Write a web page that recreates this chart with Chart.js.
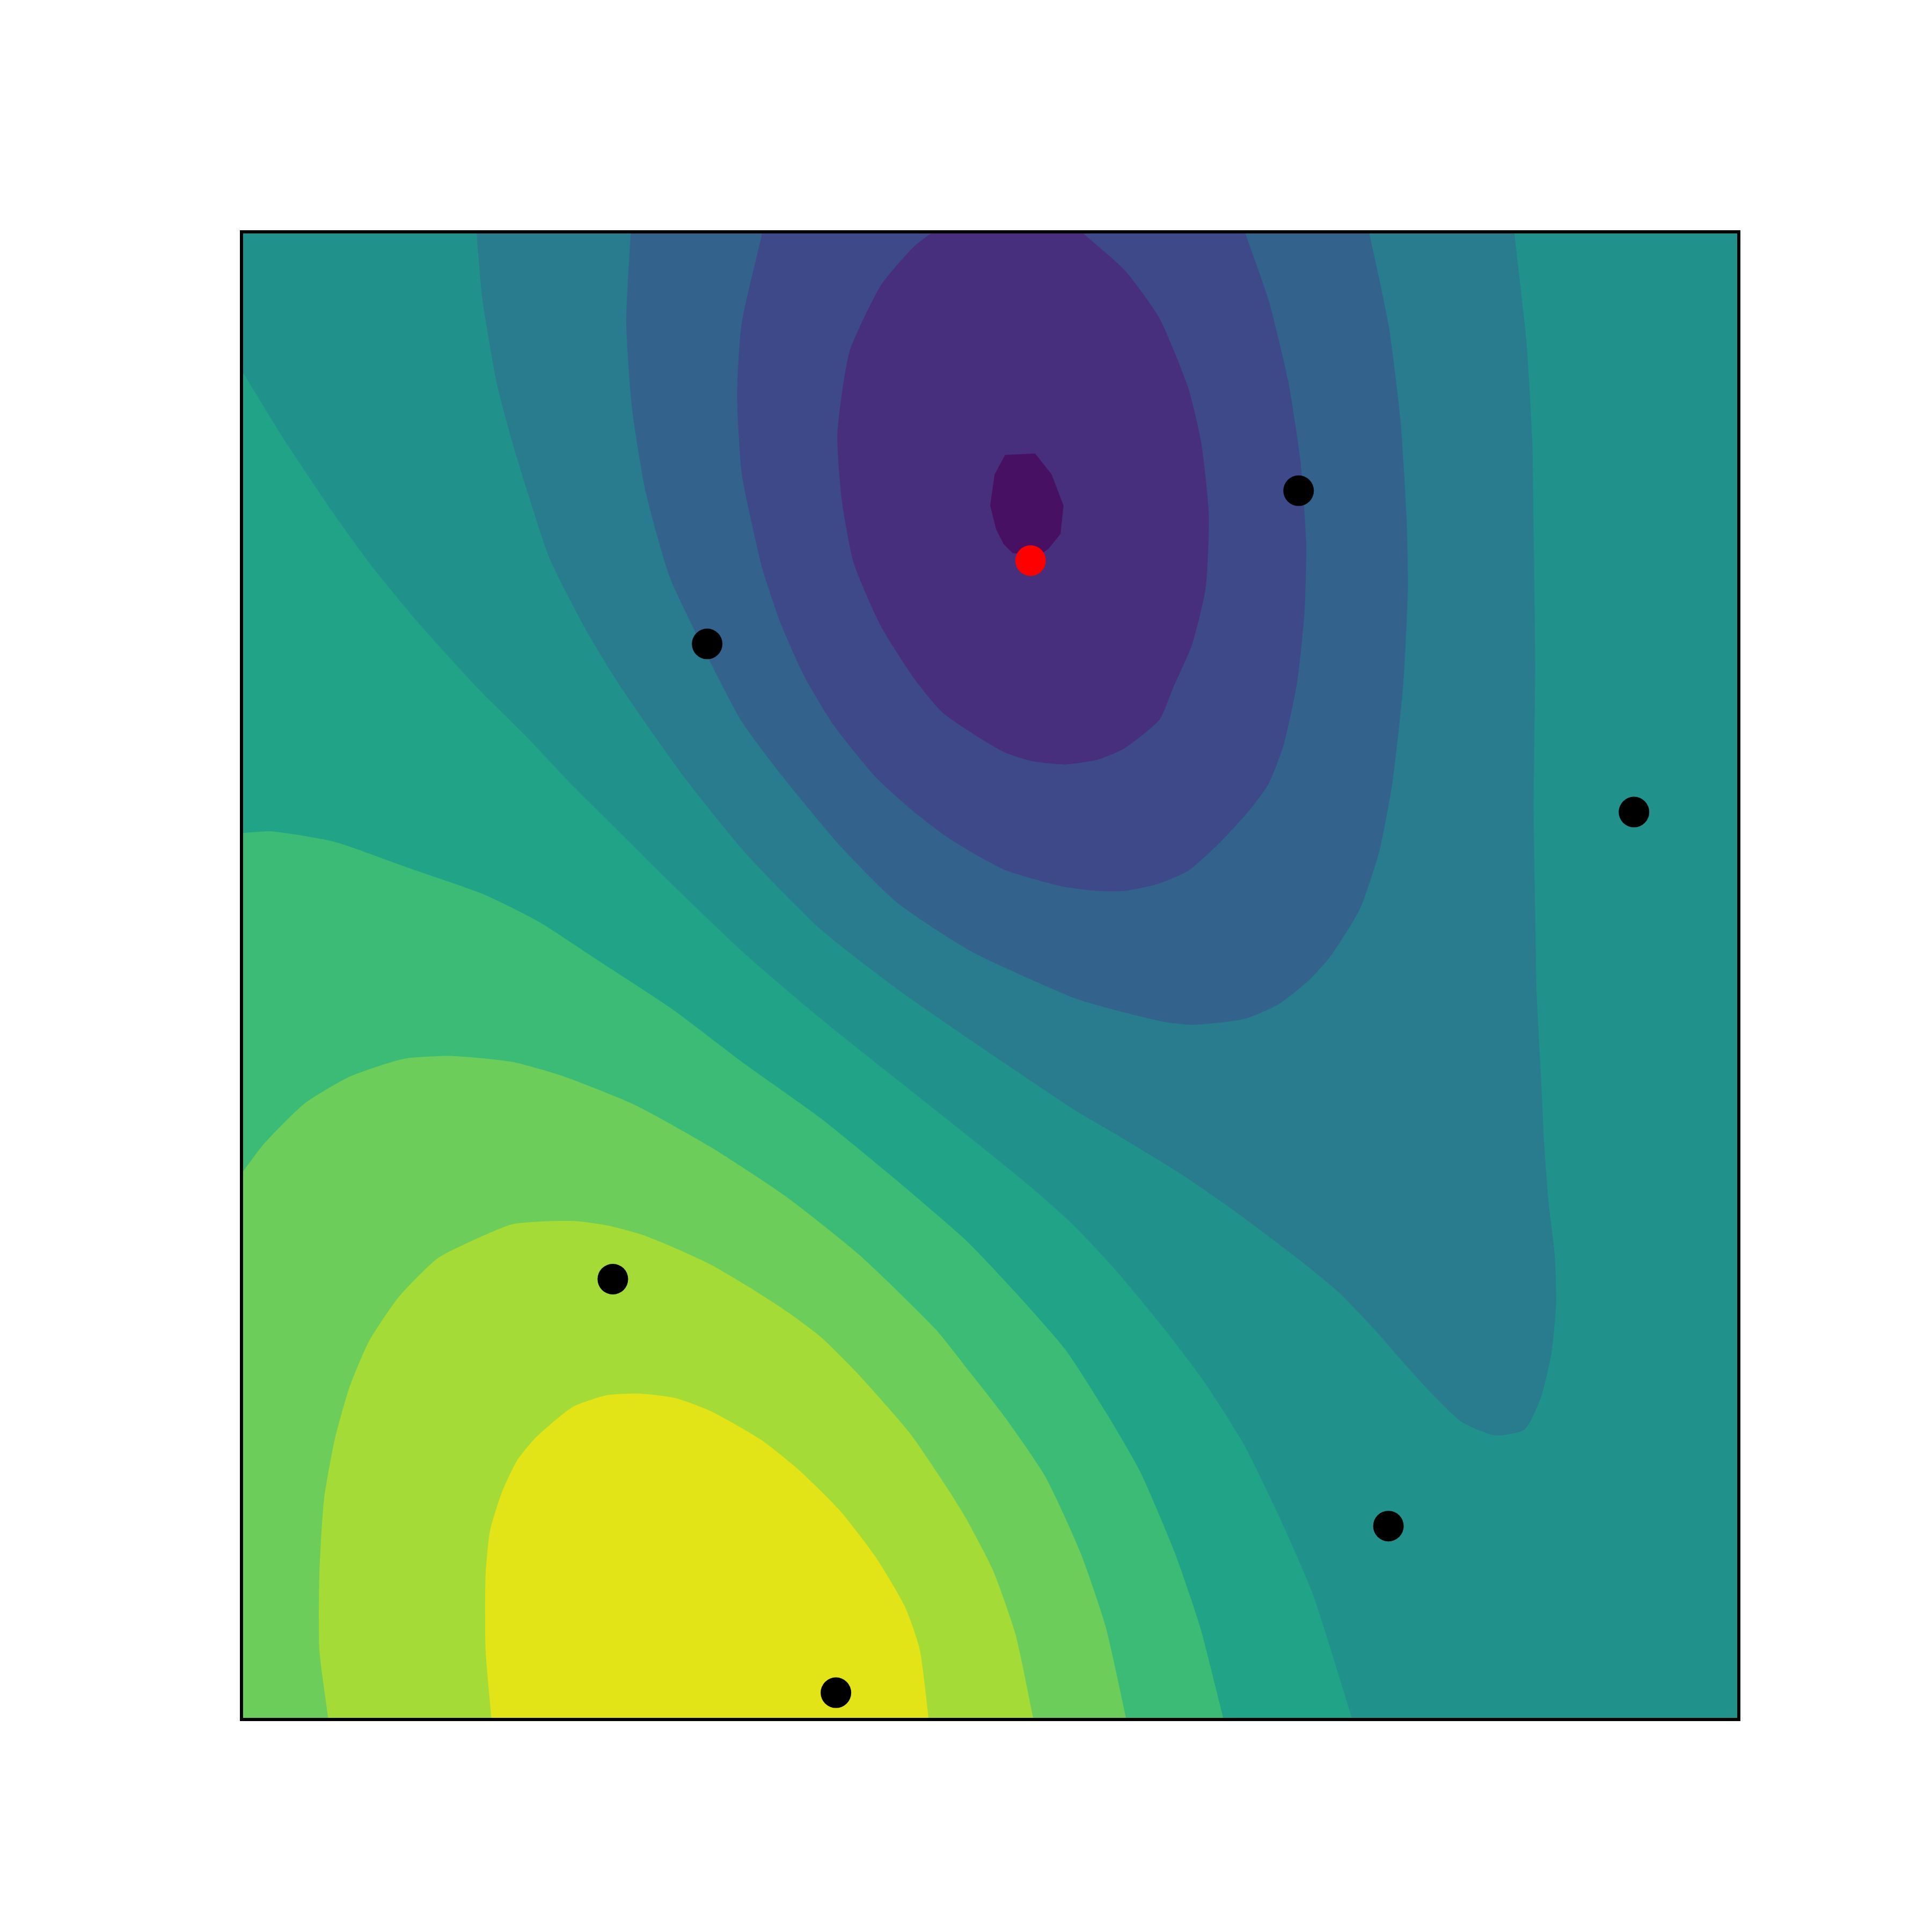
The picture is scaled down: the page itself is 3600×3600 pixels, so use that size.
<!DOCTYPE html>
<html>
<head>
<meta charset="utf-8">
<script src="https://cdn.jsdelivr.net/npm/chart.js@4.4.1/dist/chart.umd.min.js"></script>
<style>
  html, body { margin: 0; padding: 0; background: #ffffff; }
  canvas { display: block; }
</style>
</head>
<body>
<canvas id="c" width="3600" height="3600"></canvas>
<script>
// Colour of each contour band (low -> high), viridis sampled at band centres
const bandColors = ['#471063','#472f7d','#3e4989','#33638d','#297b8e','#21918c','#20a386','#3bbb75','#6ccd5a','#a5db36','#e2e418'];

// Contour band outlines (x, y in data units 0..100)
// middle band: whole domain
const bandMid = [[-5,-5],[105,-5],[105,105],[-5,105],[-5,-5]];

// low side (nested, towards the minimum near the red point)
const bandLow1 = [[15.4,105],[15.7,100],[16.1,95.4],[17.1,89.6],[18.4,84.8],[20.6,78.0],[23.2,72.9],[25.4,69.3],[29.6,63.3],[33.7,58.2],[38.7,53.1],[43.8,49.1],[48.8,45.6],[55.6,41.0],[58.3,39.4],[62.7,36.7],[65.6,34.7],[68.3,32.7],[70.9,30.7],[73.3,28.7],[75.6,26.3],[77.6,24.0],[79.5,21.9],[81.5,20.0],[83.7,19.1],[85.7,19.5],[86.8,21.7],[87.5,24.7],[87.8,28.0],[87.7,31.3],[87.3,34.7],[87.0,38.7],[86.8,43.0],[86.5,48.8],[86.4,54.4],[86.3,61.1],[86.4,71.1],[86.3,79.5],[86.2,86.1],[85.8,92.8],[85.0,100],[84.5,105],[15.4,105]];
const bandLow2 = [[26.3,105],[26.0,100],[25.7,93.8],[26.1,88.0],[27.0,82.5],[28.6,76.8],[30.9,71.9],[33.4,67.1],[36.2,63.3],[40.0,58.7],[43.8,54.9],[48.8,51.6],[55.6,48.5],[58.3,47.7],[61.6,46.9],[63.6,46.7],[67.0,47.1],[69.3,48.1],[71.3,49.7],[72.8,51.4],[74.7,54.5],[76.0,58.4],[76.9,63.2],[77.6,69.7],[77.9,76.1],[77.8,81.0],[77.4,87.4],[76.6,93.8],[75.3,100],[74.2,105],[26.3,105]];
const bandLow3 = [[35.9,105],[34.8,100],[33.4,93.8],[33.1,89.0],[33.4,83.8],[34.1,80.3],[34.8,77.3],[36.0,73.7],[37.6,70.1],[39.5,66.9],[42.3,63.4],[44.8,61.1],[47.0,59.4],[49.1,58.1],[51.0,57.1],[52.9,56.5],[54.8,56.0],[57.1,55.7],[59.0,55.7],[61.3,56.2],[63.3,57.1],[65.4,59.0],[67.3,61.1],[68.6,62.9],[69.6,65.5],[70.5,69.7],[71.0,74.5],[71.1,79.3],[70.7,84.8],[69.9,90.0],[68.6,95.4],[67.0,100],[65.3,105],[35.9,105]];
const bandLow4 = [[47.6,105],[47.6,101.0],[46.2,100],[44.9,99.0],[42.7,96.4],[40.6,91.9],[39.8,86.4],[40.1,81.9],[40.9,77.7],[42.7,73.5],[44.9,70.0],[46.8,67.7],[49.1,66.1],[51.0,65.0],[52.9,64.4],[55.0,64.2],[57.1,64.5],[59.0,65.3],[61.3,67.2],[62.2,69.3],[63.5,72.3],[64.4,76.1],[64.6,81.0],[64.1,85.8],[63.2,89.6],[61.3,94.2],[59.0,97.4],[56.1,100],[54.5,101.5],[54.5,105],[47.6,105]];
const bandLow5 = [[51.0,85.0],[53.0,85.1],[54.1,83.7],[54.9,81.6],[54.7,79.7],[53.9,78.7],[53.2,78.2],[51.5,78.4],[50.9,79.0],[50.4,80.0],[50.0,81.6],[50.3,83.7],[51.0,85.0]];

// high side (nested, towards the maximum at the bottom)
const bandHigh1 = [[-5,93.2],[-1.5,93.2],[0,90.7],[3.0,85.8],[6.2,81.0],[8.8,77.4],[12.0,73.5],[15.8,69.3],[19.0,66.1],[22.0,62.9],[24.9,60.0],[28.7,56.2],[33.7,51.4],[38.7,47.1],[43.8,43.0],[48.8,39.0],[52.6,35.9],[55.6,33.2],[58.3,30.3],[61.6,26.3],[64.3,22.7],[67.0,18.4],[69.6,13.0],[71.6,8.3],[74.2,0],[75.8,-5],[-5,-5],[-5,93.2]];
const bandHigh2 = [[-5,59.6],[0,59.6],[2.0,59.7],[6.2,59.0],[11.0,57.3],[16.1,55.5],[19.9,53.6],[23.7,51.1],[28.7,47.8],[33.7,44.0],[38.7,40.4],[43.8,36.2],[48.4,32.2],[51.7,28.7],[55.0,24.9],[57.7,20.7],[60.0,16.7],[62.3,11.3],[64.0,6.3],[65.6,0],[66.9,-5],[-5,-5],[-5,59.6]];
const bandHigh3 = [[-5,35.4],[-1,35.4],[0,36.7],[1.5,38.7],[4.2,41.4],[7.2,43.2],[10.8,44.4],[14.1,44.6],[18.1,44.2],[21.6,43.2],[26.3,41.3],[31.3,38.5],[36.3,35.2],[41.3,31.2],[46.3,26.3],[48.6,23.4],[51.0,20.3],[53.7,16.3],[56.0,11.3],[57.7,6.3],[59.1,0],[60.2,-5],[-5,-5],[-5,35.4]];
const bandHigh4 = [[6.4,-5],[5.8,0],[5.2,4.7],[5.2,9.7],[5.5,14.7],[6.2,18.7],[7.2,22.3],[8.5,25.4],[10.5,28.4],[13.1,31.0],[16.1,32.5],[18.1,33.3],[20.4,33.5],[22.4,33.5],[24.5,33.2],[26.7,32.6],[28.7,31.8],[31.3,30.6],[34.0,29.0],[36.6,27.3],[38.7,25.7],[41.2,23.2],[44.6,19.3],[47.3,15.3],[48.4,13.5],[50.2,10.0],[51.7,5.7],[52.9,0],[54.0,-5],[6.4,-5]];
const bandHigh5 = [[17.1,-5],[16.7,0],[16.3,4.7],[16.3,9.7],[16.6,12.7],[17.4,15.3],[18.4,17.4],[19.7,19.0],[22.1,21.0],[24.4,21.8],[26.7,21.9],[29.0,21.6],[31.4,20.7],[34.7,18.8],[37.3,16.7],[40.0,14.0],[42.3,11.0],[44.3,7.6],[45.3,4.7],[45.9,0],[46.5,-5],[17.1,-5]];

// Sample points
const sampleX = [31.1, 70.6, 93.0, 24.8, 76.6, 39.7];
const sampleY = [72.3, 82.6, 61.0, 29.6, 13.0, 1.8];
// Minimum marker
const minX = [52.7];
const minY = [77.9];

const toPts = arr => arr.map(p => ({x: p[0], y: p[1]}));

// drawing order: bottom first (highest "order")
const bandList = [
  {data: bandMid,   color: bandColors[5], order: 100, smooth: 0},
  {data: bandLow1,  color: bandColors[4], order: 95, smooth: 0.2},
  {data: bandLow2,  color: bandColors[3], order: 94, smooth: 0.2},
  {data: bandLow3,  color: bandColors[2], order: 93, smooth: 0.2},
  {data: bandLow4,  color: bandColors[1], order: 92, smooth: 0.2},
  {data: bandLow5,  color: bandColors[0], order: 91, smooth: 0},
  {data: bandHigh1, color: bandColors[6], order: 85, smooth: 0.2},
  {data: bandHigh2, color: bandColors[7], order: 84, smooth: 0.2},
  {data: bandHigh3, color: bandColors[8], order: 83, smooth: 0.2},
  {data: bandHigh4, color: bandColors[9], order: 82, smooth: 0.2},
  {data: bandHigh5, color: bandColors[10], order: 81, smooth: 0.2}
];

const datasets = bandList.map(b => ({
  data: toPts(b.data),
  showLine: true,
  fill: 'shape',
  backgroundColor: b.color,
  borderColor: 'rgba(0,0,0,0)',
  borderWidth: 0,
  pointRadius: 0,
  pointHoverRadius: 0,
  tension: b.smooth,
  capBezierPoints: false,
  order: b.order
}));

datasets.push({
  data: sampleX.map((x, i) => ({x, y: sampleY[i]})),
  showLine: false,
  pointRadius: 28.5,
  pointBackgroundColor: '#000000',
  pointBorderColor: '#000000',
  pointBorderWidth: 0,
  clip: false,
  order: 2
});
datasets.push({
  data: minX.map((x, i) => ({x, y: minY[i]})),
  showLine: false,
  pointRadius: 28.5,
  pointBackgroundColor: '#ff0000',
  pointBorderColor: '#ff0000',
  pointBorderWidth: 0,
  clip: false,
  order: 1
});

const frame = {
  id: 'frame',
  afterDatasetsDraw(chart) {
    const a = chart.chartArea, ctx = chart.ctx;
    ctx.save();
    ctx.strokeStyle = '#000000';
    ctx.lineWidth = 6;
    ctx.strokeRect(a.left, a.top, a.right - a.left, a.bottom - a.top);
    ctx.restore();
  }
};

new Chart(document.getElementById('c'), {
  type: 'scatter',
  data: { datasets },
  options: {
    responsive: false,
    animation: false,
    devicePixelRatio: 1,
    layout: { padding: { left: 450, right: 360, top: 432, bottom: 396 } },
    plugins: { legend: { display: false }, tooltip: { enabled: false } },
    events: [],
    scales: {
      x: { type: 'linear', min: 0, max: 100, display: false },
      y: { type: 'linear', min: 0, max: 100, display: false }
    }
  },
  plugins: [frame]
});
</script>
</body>
</html>
